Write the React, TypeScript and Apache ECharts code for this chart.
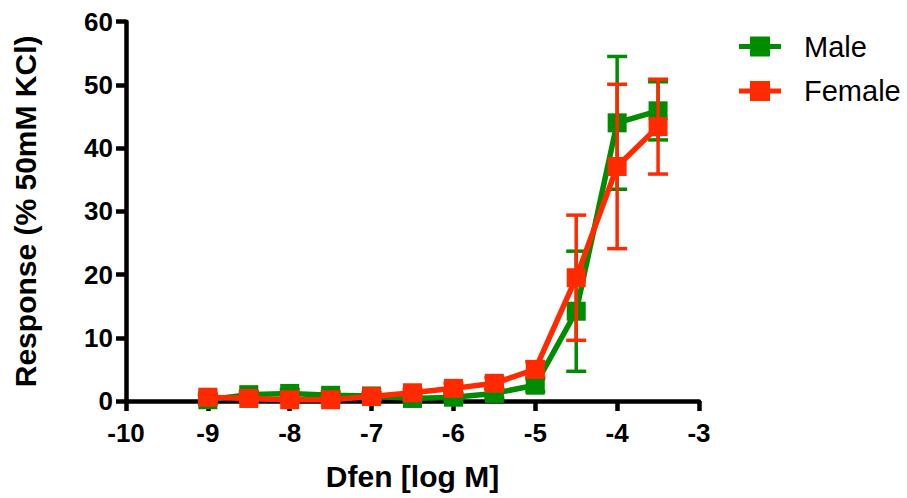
import React, { useEffect, useRef } from "react";
import * as echarts from "echarts";

const xValues = [-9, -8.5, -8, -7.5, -7, -6.5, -6, -5.5, -5, -4.5, -4, -3.5];
const maleMean = [0.2, 1.0, 1.2, 0.9, 0.8, 0.4, 0.6, 1.2, 2.5, 14.2, 44.0, 45.9];
const maleErr = [0.6, 0.5, 0.6, 0.5, 0.5, 0.5, 0.6, 0.7, 1.0, 9.5, 10.5, 4.6];
const femaleMean = [0.6, 0.4, 0.2, 0.2, 0.7, 1.3, 2.0, 2.8, 5.0, 19.5, 37.1, 43.4];
const femaleErr = [0.5, 0.5, 0.4, 0.4, 0.5, 0.6, 0.8, 0.9, 1.2, 9.9, 13.0, 7.5];
const seriesNames = ["Male", "Female"];

const GREEN = "#008c00";
const RED = "#ff2a00";
const FONT = "Liberation Sans, Arial, sans-serif";

function errSeries(name: string, mean: number[], err: number[], color: string, z: number) {
  const data = xValues.map((x, i) => [x, mean[i] - err[i], mean[i] + err[i]]);
  return {
    type: "custom",
    name: name + "_err",
    z,
    silent: true,
    data,
    renderItem: (params: any, api: any) => {
      const x = api.value(0);
      const lo = api.coord([x, api.value(1)]);
      const hi = api.coord([x, api.value(2)]);
      const cap = 10;
      const style = { stroke: color, lineWidth: 3.5, fill: "none" };
      return {
        type: "group",
        children: [
          { type: "line", shape: { x1: lo[0], y1: lo[1], x2: hi[0], y2: hi[1] }, style },
          { type: "line", shape: { x1: hi[0] - cap, y1: hi[1], x2: hi[0] + cap, y2: hi[1] }, style },
          { type: "line", shape: { x1: lo[0] - cap, y1: lo[1], x2: lo[0] + cap, y2: lo[1] }, style },
        ],
      };
    },
  };
}

function legendItem(label: string, color: string, cy: number) {
  return {
    type: "group",
    children: [
      { type: "line", shape: { x1: 739, y1: cy, x2: 781, y2: cy }, style: { stroke: color, lineWidth: 5 } },
      { type: "rect", shape: { x: 750, y: cy - 10, width: 20, height: 20 }, style: { fill: color } },
      {
        type: "text",
        x: 804,
        y: cy,
        style: { text: label, fill: "#000", font: `29px ${FONT}`, verticalAlign: "middle", align: "left" },
      },
    ],
  };
}

export default function App() {
  const ref = useRef<HTMLDivElement>(null);
  useEffect(() => {
    if (!ref.current) return;
    const chart = echarts.init(ref.current, null, { renderer: "svg" });
    const axisLabel = { color: "#000", fontSize: 26, fontWeight: "bold", fontFamily: FONT };
    chart.setOption({
      animation: false,
      backgroundColor: "#fff",
      grid: { left: 126, right: 208, top: 21.7, bottom: 97, containLabel: false },
      graphic: [legendItem(seriesNames[0], GREEN, 46.5), legendItem(seriesNames[1], RED, 91)],
      xAxis: {
        type: "value",
        min: -10,
        max: -3,
        interval: 1,
        name: "Dfen [log M]",
        nameLocation: "middle",
        nameGap: 60,
        nameTextStyle: { color: "#000", fontSize: 30, fontWeight: "bold", fontFamily: FONT },
        axisLine: { show: true, onZero: false, lineStyle: { color: "#000", width: 4.5 } },
        axisTick: { show: true, length: 10, lineStyle: { color: "#000", width: 4.5 } },
        axisLabel: { ...axisLabel, margin: 19 },
        splitLine: { show: false },
      },
      yAxis: {
        type: "value",
        min: 0,
        max: 60,
        interval: 10,
        name: "Response (% 50mM KCl)",
        nameLocation: "middle",
        nameGap: 86,
        nameTextStyle: { color: "#000", fontSize: 30, fontWeight: "bold", fontFamily: FONT },
        axisLine: { show: true, onZero: false, lineStyle: { color: "#000", width: 4.5 } },
        axisTick: { show: true, length: 10, lineStyle: { color: "#000", width: 4.5 } },
        axisLabel: { ...axisLabel, margin: 13 },
        splitLine: { show: false },
      },
      series: [
        errSeries(seriesNames[0], maleMean, maleErr, GREEN, 2),
        {
          type: "line",
          name: seriesNames[0],
          z: 3,
          data: xValues.map((x, i) => [x, maleMean[i]]),
          symbol: "rect",
          symbolSize: 19,
          lineStyle: { color: GREEN, width: 5.5 },
          itemStyle: { color: GREEN },
        },
        errSeries(seriesNames[1], femaleMean, femaleErr, RED, 4),
        {
          type: "line",
          name: seriesNames[1],
          z: 5,
          data: xValues.map((x, i) => [x, femaleMean[i]]),
          symbol: "rect",
          symbolSize: 19,
          lineStyle: { color: RED, width: 5.5 },
          itemStyle: { color: RED },
        },
      ],
    });
    return () => chart.dispose();
  }, []);
  return <div ref={ref} style={{ width: 907, height: 498, position: "absolute", left: 0, top: 0 }} />;
}
